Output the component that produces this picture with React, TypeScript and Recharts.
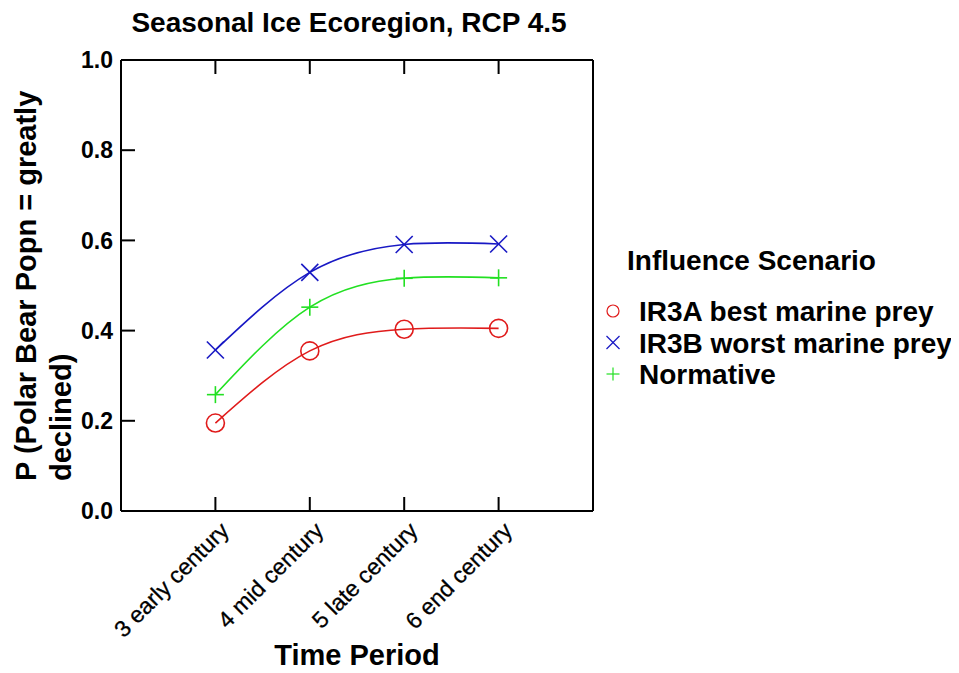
import React from 'react';
import { LineChart, Line, XAxis, YAxis, Legend, Label } from 'recharts';

const FONT = '"Liberation Sans", Arial, Helvetica, sans-serif';

// ---- data ----
const categories = ['3 early century', '4 mid century', '5 late century', '6 end century'];
const periodIndex = [3, 4, 5, 6];
const bestMarinePrey = [0.195, 0.355, 0.403, 0.405];
const worstMarinePrey = [0.357, 0.529, 0.591, 0.592];
const normative = [0.258, 0.452, 0.516, 0.517];
const yTicks = [0, 0.2, 0.4, 0.6, 0.8, 1.0];
const xDomain = [2, 7];
const seriesNames = ['IR3A best marine prey', 'IR3B worst marine prey', 'Normative'];
const titleText = 'Seasonal Ice Ecoregion, RCP 4.5';
const xTitle = 'Time Period';
const yTitleLines = ['P (Polar Bear Popn = greatly', 'declined)'];
const legendTitle = 'Influence Scenario';

const RED = '#e01b1b';
const BLUE = '#1818c4';
const GREEN = '#22e022';

const data = periodIndex.map((x, i) => ({
  x,
  label: categories[i],
  best: bestMarinePrey[i],
  worst: worstMarinePrey[i],
  normative: normative[i],
}));

const series = [
  { key: 'best', name: seriesNames[0], color: RED, shape: 'circle' },
  { key: 'worst', name: seriesNames[1], color: BLUE, shape: 'x' },
  { key: 'normative', name: seriesNames[2], color: GREEN, shape: 'plus' },
];

const Marker = ({ shape, cx, cy, color, size, sw }: any) => {
  if (shape === 'circle') {
    return <circle cx={cx} cy={cy} r={size} fill="none" stroke={color} strokeWidth={sw} />;
  }
  if (shape === 'x') {
    return (
      <g>
        <line x1={cx - size} y1={cy - size} x2={cx + size} y2={cy + size} stroke={color} strokeWidth={sw} />
        <line x1={cx - size} y1={cy + size} x2={cx + size} y2={cy - size} stroke={color} strokeWidth={sw} />
      </g>
    );
  }
  return (
    <g>
      <line x1={cx - size} y1={cy} x2={cx + size} y2={cy} stroke={color} strokeWidth={sw} />
      <line x1={cx} y1={cy - size} x2={cx} y2={cy + size} stroke={color} strokeWidth={sw} />
    </g>
  );
};

const makeDot = (shape: string, color: string) => (p: any) => (
  <Marker key={`${shape}-${p.index}`} shape={shape} cx={p.cx} cy={p.cy} color={color} size={shape === 'circle' ? 9 : 8.5} sw={1.6} />
);

const LeftTick = ({ x, y, payload }: any) => (
  <g>
    <line x1={x} y1={y} x2={x + 14} y2={y} stroke="#000" strokeWidth={2} />
    <text x={x - 8} y={y} dy="0.36em" textAnchor="end" fontSize={23} fontWeight="bold" fontFamily={FONT} fill="#000">
      {Number(payload.value).toFixed(1)}
    </text>
  </g>
);

const RightTick = ({ x, y }: any) => (
  <line x1={x} y1={y} x2={x - 14} y2={y} stroke="#000" strokeWidth={2} />
);

const TopTick = ({ x, y }: any) => (
  <line x1={x} y1={y} x2={x} y2={y + 14} stroke="#000" strokeWidth={2} />
);

const BottomTick = ({ x, y, payload }: any) => {
  const i = periodIndex.indexOf(payload.value);
  const ax = x + 15;
  const ay = y + 21;
  return (
    <g>
      <line x1={x} y1={y} x2={x} y2={y - 14} stroke="#000" strokeWidth={2} />
      <text x={ax} y={ay} textAnchor="end" transform={`rotate(-45, ${ax}, ${ay})`} fontSize={23} fontFamily={FONT} fill="#000" stroke="#000" strokeWidth={0.3}>
        {categories[i]}
      </text>
    </g>
  );
};

const TitleLabel = ({ viewBox }: any) => {
  const vb = viewBox || { x: 113, y: 42, width: 472, height: 10 };
  return (
    <text x={vb.x + vb.width / 2 - 8} y={24} textAnchor="middle" fontSize={28} fontWeight="bold" fontFamily={FONT} fill="#000">
      {titleText}
    </text>
  );
};

const XTitleLabel = ({ viewBox }: any) => {
  const vb = viewBox || { x: 113, y: 503, width: 472, height: 162 };
  return (
    <text x={vb.x + vb.width / 2} y={vb.y + 154} textAnchor="middle" fontSize={29} fontWeight="bold" fontFamily={FONT} fill="#000">
      {xTitle}
    </text>
  );
};

const YTitleLabel = ({ viewBox }: any) => {
  const vb = viewBox || { x: 0, y: 52, width: 113, height: 451 };
  const by = vb.y + vb.height - 30;
  const xs = [vb.x + 28, vb.x + 63];
  return (
    <g>
      {yTitleLines.map((t, i) => (
        <text key={i} x={xs[i]} y={by} textAnchor="start" transform={`rotate(-90, ${xs[i]}, ${by})`} fontSize={29} fontWeight="bold" fontFamily={FONT} fill="#000">
          {t}
        </text>
      ))}
    </g>
  );
};

const LegendBox = () => (
  <svg width={359} height={170} style={{ display: 'block', overflow: 'visible' }}>
    <text x={27} y={34} fontSize={28} fontWeight="bold" fontFamily={FONT} fill="#000">
      {legendTitle}
    </text>
    {series.map((s, i) => {
      const cy = 75 + i * 31.5;
      return (
        <g key={s.key}>
          <Marker shape={s.shape} cx={13} cy={cy} color={s.color} size={s.shape === 'circle' ? 6 : 6.5} sw={1.2} />
          <text x={39} y={cy + 10} fontSize={28} fontWeight="bold" fontFamily={FONT} fill="#000">
            {s.name}
          </text>
        </g>
      );
    })}
  </svg>
);

export default function App() {
  return (
    <div style={{ width: 951, height: 665, background: '#fff' }}>
      <LineChart width={951} height={665} data={data} margin={{ top: 42, right: 356, bottom: 0, left: 0 }}>
        <XAxis
          xAxisId="b"
          dataKey="x"
          type="number"
          domain={xDomain}
          ticks={periodIndex}
          orientation="bottom"
          height={162}
          tickSize={0}
          tickMargin={0}
          tickLine={false}
          axisLine={{ stroke: '#000', strokeWidth: 2 }}
          tick={<BottomTick />}
          interval={0}
        >
          <Label content={<XTitleLabel />} />
        </XAxis>
        <XAxis
          xAxisId="t"
          dataKey="x"
          type="number"
          domain={xDomain}
          ticks={periodIndex}
          orientation="top"
          height={10}
          tickSize={0}
          tickMargin={0}
          tickLine={false}
          axisLine={{ stroke: '#000', strokeWidth: 2 }}
          tick={<TopTick />}
          interval={0}
        >
          <Label content={<TitleLabel />} />
        </XAxis>
        <YAxis
          yAxisId="l"
          type="number"
          domain={[0, 1]}
          ticks={yTicks}
          orientation="left"
          width={113}
          tickSize={0}
          tickMargin={0}
          tickLine={false}
          axisLine={{ stroke: '#000', strokeWidth: 2 }}
          tick={<LeftTick />}
          interval={0}
        >
          <Label content={<YTitleLabel />} />
        </YAxis>
        <YAxis
          yAxisId="r"
          type="number"
          domain={[0, 1]}
          ticks={yTicks}
          orientation="right"
          width={10}
          tickSize={0}
          tickMargin={0}
          tickLine={false}
          axisLine={{ stroke: '#000', strokeWidth: 2 }}
          tick={<RightTick />}
          interval={0}
        />
        {series.map((s) => (
          <Line
            key={s.key}
            xAxisId="b"
            yAxisId="l"
            type="natural"
            dataKey={s.key}
            name={s.name}
            stroke={s.color}
            strokeWidth={1.6}
            dot={makeDot(s.shape, s.color)}
            activeDot={false}
            isAnimationActive={false}
          />
        ))}
        <Legend
          layout="vertical"
          align="center"
          verticalAlign="middle"
          wrapperStyle={{ left: 592, top: 228, width: 359, height: 170 }}
          content={<LegendBox />}
        />
      </LineChart>
    </div>
  );
}
